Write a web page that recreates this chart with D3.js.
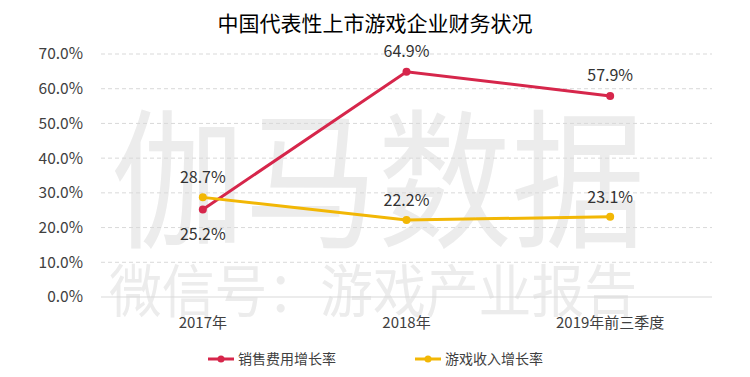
<!DOCTYPE html>
<html>
<head>
<meta charset="utf-8">
<script src="https://cdn.jsdelivr.net/npm/d3@7"></script>
<style>
  body { margin: 0; background: #fff; }
  text { font-family: "Noto Sans CJK SC", "Noto Sans", sans-serif; }
</style>
</head>
<body>
<div id="chart"></div>
<script>
// data
let categories = ["2017年", "2018年", "2019年前三季度"];
let salesCostGrowth = [25.2, 64.9, 57.9];
let gameRevenueGrowth = [28.7, 22.2, 23.1];
let yTicks = [0, 10, 20, 30, 40, 50, 60, 70];
let seriesNames = ["销售费用增长率", "游戏收入增长率"];

let width = 750, height = 377;
let margin = {top: 54, right: 38, bottom: 80, left: 101};

let svg = d3.select("#chart").append("svg")
    .attr("width", width)
    .attr("height", height);

// watermark behind everything
svg.append("text")
    .attr("x", 111).attr("y", 236)
    .attr("font-size", 150)
    .attr("textLength", 534)
    .attr("lengthAdjust", "spacingAndGlyphs")
    .attr("fill", "#ececec")
    .text("伽马数据");
svg.append("text")
    .attr("x", 109).attr("y", 312)
    .attr("font-size", 57)
    .attr("textLength", 528)
    .attr("lengthAdjust", "spacingAndGlyphs")
    .attr("fill", "#ececec")
    .text("微信号：游戏产业报告");

svg.append("text")
    .attr("x", 375).attr("y", 31)
    .attr("text-anchor", "middle")
    .attr("font-size", 21)
    .attr("fill", "#000")
    .text("中国代表性上市游戏企业财务状况");

let x = d3.scaleBand()
    .domain(categories)
    .range([margin.left, width - margin.right]);

let y = d3.scaleLinear()
    .domain([0, 70])
    .range([height - margin.bottom, margin.top]);

// gridlines
let grid = svg.append("g").attr("id", "grid");
grid.selectAll("line")
    .data(yTicks)
    .join("line")
    .attr("x1", margin.left)
    .attr("x2", width - margin.right)
    .attr("y1", d => y(d))
    .attr("y2", d => y(d))
    .attr("stroke", "#d9d9d9")
    .attr("stroke-width", 1)
    .attr("stroke-dasharray", d => d === 0 ? null : "4,3");

// y axis labels
let yAxis = d3.axisLeft(y)
    .tickValues(yTicks)
    .tickFormat(d => d.toFixed(1) + "%")
    .tickSize(0)
    .tickPadding(18);
svg.append("g")
    .attr("transform", `translate(${margin.left},0)`)
    .call(yAxis)
    .call(g => g.select(".domain").remove())
    .selectAll("text")
    .attr("font-size", 15.5)
    .attr("fill", "#404040");

// x axis labels
let xAxis = d3.axisBottom(x).tickSize(0).tickPadding(20);
svg.append("g")
    .attr("transform", `translate(0,${height - margin.bottom})`)
    .call(xAxis)
    .call(g => g.select(".domain").remove())
    .selectAll("text")
    .attr("font-size", 15)
    .attr("fill", "#404040");

let cx = d => x(d) + x.bandwidth() / 2;

let series = [
    {name: seriesNames[0], values: salesCostGrowth, color: "#d6264b", labelDy: [30, -15, -15]},
    {name: seriesNames[1], values: gameRevenueGrowth, color: "#f2b705", labelDy: [-14, -14, -14]}
];

let line = d3.line()
    .x((d, i) => cx(categories[i]))
    .y(d => y(d));

series.forEach(s => {
    let g = svg.append("g");
    g.append("path")
        .datum(s.values)
        .attr("d", line)
        .attr("fill", "none")
        .attr("stroke", s.color)
        .attr("stroke-width", 3);
    g.selectAll("circle")
        .data(s.values)
        .join("circle")
        .attr("cx", (d, i) => cx(categories[i]))
        .attr("cy", d => y(d))
        .attr("r", 4)
        .attr("fill", s.color);
    g.selectAll("text")
        .data(s.values)
        .join("text")
        .attr("x", (d, i) => cx(categories[i]))
        .attr("y", (d, i) => y(d) + s.labelDy[i])
        .attr("text-anchor", "middle")
        .attr("font-size", 16)
        .attr("fill", "#333")
        .text(d => d.toFixed(1) + "%");
});

// legend
let legend = svg.append("g").attr("transform", "translate(208,359)");
let legendX = [0, 207];
series.forEach((s, i) => {
    let lg = legend.append("g").attr("transform", `translate(${legendX[i]},0)`);
    lg.append("line")
        .attr("x1", 0).attr("x2", 26)
        .attr("stroke", s.color).attr("stroke-width", 3);
    lg.append("circle").attr("cx", 13).attr("r", 3.5).attr("fill", s.color);
    lg.append("text")
        .attr("x", 30).attr("y", 5)
        .attr("font-size", 14)
        .attr("fill", "#404040")
        .text(s.name);
});
</script>
</body>
</html>
